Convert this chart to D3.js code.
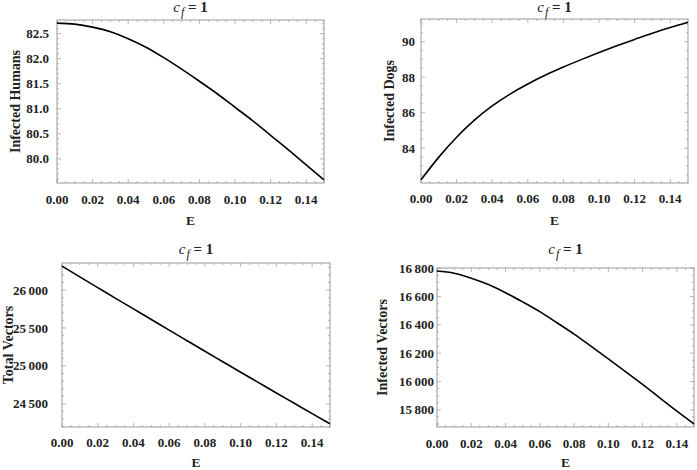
<!DOCTYPE html>
<html>
<head>
<meta charset="utf-8">
<script src="https://cdn.jsdelivr.net/npm/d3@7"></script>
<style>
  body { margin: 0; background: #fff; }
  text { font-family: "Liberation Serif", "Times New Roman", serif; fill: #222; }
</style>
</head>
<body>
<svg id="chart" width="697" height="470"></svg>
<script>
// E values (x axis), shared by all four panels
var eValues = [0.00,0.01,0.02,0.03,0.04,0.05,0.06,0.07,0.08,0.09,0.10,0.11,0.12,0.13,0.14,0.15];

// series
var infectedHumans  = [82.71,82.69,82.63,82.54,82.40,82.23,82.02,81.79,81.55,81.30,81.03,80.76,80.47,80.18,79.88,79.58];
var infectedDogs    = [82.22,83.50,84.62,85.58,86.38,87.05,87.62,88.12,88.57,88.99,89.39,89.77,90.13,90.48,90.80,91.10];
var totalVectors    = [26315,26173,26032,25891,25751,25611,25471,25332,25193,25055,24917,24780,24643,24507,24371,24236];
var infectedVectors = [16780,16765,16730,16685,16627,16562,16493,16415,16335,16248,16160,16070,15980,15884,15790,15700];

// tick labels
var xTicks      = [0.00,0.02,0.04,0.06,0.08,0.10,0.12,0.14];
var humansTicks = [80.0,80.5,81.0,81.5,82.0,82.5];
var dogsTicks   = [84,86,88,90];
var totalTicks  = [24500,25000,25500,26000];
var infVecTicks = [15800,16000,16200,16400,16600,16800];

var thin = d3.formatLocale({decimal:'.', thousands:'\u2009', grouping:[3], currency:['','']}).format(',');

var panels = [
  {ys:infectedHumans, label:'Infected Humans', ticks:humansTicks, minor:0.1, fmt:d3.format('.1f'),
   box:{x0:57,x1:324,y0:20,y1:183}, labGap:8, ylabX:15, titleY:12, xtY:204, eY:225},
  {ys:infectedDogs, label:'Infected Dogs', ticks:dogsTicks, minor:0.5, fmt:d3.format('d'),
   box:{x0:421,x1:688,y0:19,y1:183}, labGap:6, ylabX:389, titleY:12, xtY:203, eY:225},
  {ys:totalVectors, label:'Total Vectors', ticks:totalTicks, minor:100, fmt:thin,
   box:{x0:62,x1:330,y0:263,y1:427}, labGap:14, ylabX:8, titleY:254, xtY:447, eY:467},
  {ys:infectedVectors, label:'Infected Vectors', ticks:infVecTicks, minor:50, fmt:thin,
   box:{x0:437,x1:694,y0:268,y1:427}, labGap:3, ylabX:382, titleY:254, xtY:448, eY:467}
];

var svg = d3.select('#chart');

panels.forEach(function(p){
    var b = p.box;
    var ext = d3.extent(p.ys), pad = (ext[1]-ext[0])*0.02;
    var x = d3.scaleLinear().domain([0,0.15]).range([b.x0,b.x1]);
    var y = d3.scaleLinear().domain([ext[0]-pad, ext[1]+pad]).range([b.y1,b.y0]);
    var g = svg.append('g');

    // minor + major ticks on all four sides, pointing inward
    var xMinor = d3.range(0, 0.1501, 0.005);
    var yMinor = d3.range(Math.ceil(y.domain()[0]/p.minor)*p.minor, y.domain()[1], p.minor);
    function isMajor(v, list){ return list.some(function(t){ return Math.abs(t-v)<1e-6*Math.max(1,Math.abs(t)); }); }
    xMinor.forEach(function(v){
        var len = isMajor(v, xTicks) ? 4 : 2;
        g.append('line').attr('x1',x(v)).attr('x2',x(v)).attr('y1',b.y1).attr('y2',b.y1-len).attr('stroke','#999').attr('stroke-width',0.7);
        g.append('line').attr('x1',x(v)).attr('x2',x(v)).attr('y1',b.y0).attr('y2',b.y0+len).attr('stroke','#999').attr('stroke-width',0.7);
    });
    yMinor.forEach(function(v){
        var len = isMajor(v, p.ticks) ? 4 : 2;
        g.append('line').attr('x1',b.x0).attr('x2',b.x0+len).attr('y1',y(v)).attr('y2',y(v)).attr('stroke','#999').attr('stroke-width',0.7);
        g.append('line').attr('x1',b.x1).attr('x2',b.x1-len).attr('y1',y(v)).attr('y2',y(v)).attr('stroke','#999').attr('stroke-width',0.7);
    });

    // frame
    g.append('rect').attr('x',b.x0).attr('y',b.y0).attr('width',b.x1-b.x0).attr('height',b.y1-b.y0)
        .attr('fill','none').attr('stroke','#999').attr('stroke-width',1);

    // tick labels
    g.selectAll('text.xt').data(xTicks).join('text').attr('class','xt')
        .attr('x',function(d){ return x(d); }).attr('y',p.xtY)
        .attr('text-anchor','middle').attr('font-size','13px').attr('font-weight','bold')
        .text(function(d){ return d3.format('.2f')(d); });
    g.selectAll('text.yt').data(p.ticks).join('text').attr('class','yt')
        .attr('x',b.x0-p.labGap).attr('y',function(d){ return y(d); }).attr('dy','0.35em')
        .attr('text-anchor','end').attr('font-size','13px').attr('font-weight','bold')
        .text(function(d){ return p.fmt(d); });

    // axis labels
    g.append('text').attr('x',(b.x0+b.x1)/2).attr('y',p.eY).attr('text-anchor','middle')
        .attr('font-size','13.5px').attr('font-weight','bold').text('E');
    g.append('text').attr('transform','translate('+p.ylabX+','+((b.y0+b.y1)/2)+') rotate(-90)')
        .attr('dy','0.35em').attr('text-anchor','middle').attr('font-size','14px').attr('font-weight','bold')
        .text(p.label);

    // title c_f = 1
    var t = g.append('text').attr('x',(b.x0+b.x1)/2).attr('y',p.titleY).attr('text-anchor','middle').attr('font-size','15px');
    t.append('tspan').attr('font-style','italic').text('c');
    t.append('tspan').attr('font-style','italic').attr('font-size','12px').attr('dy',4).attr('dx',1).text('f');
    t.append('tspan').attr('font-weight','bold').attr('dy',-4).text(' = 1');

    // curve
    var pts = eValues.map(function(e,i){ return [e, p.ys[i]]; });
    g.append('path').datum(pts)
        .attr('d', d3.line().x(function(d){ return x(d[0]); }).y(function(d){ return y(d[1]); }).curve(d3.curveMonotoneX))
        .attr('fill','none').attr('stroke','#000').attr('stroke-width',1.6);
});
</script>
</body>
</html>
